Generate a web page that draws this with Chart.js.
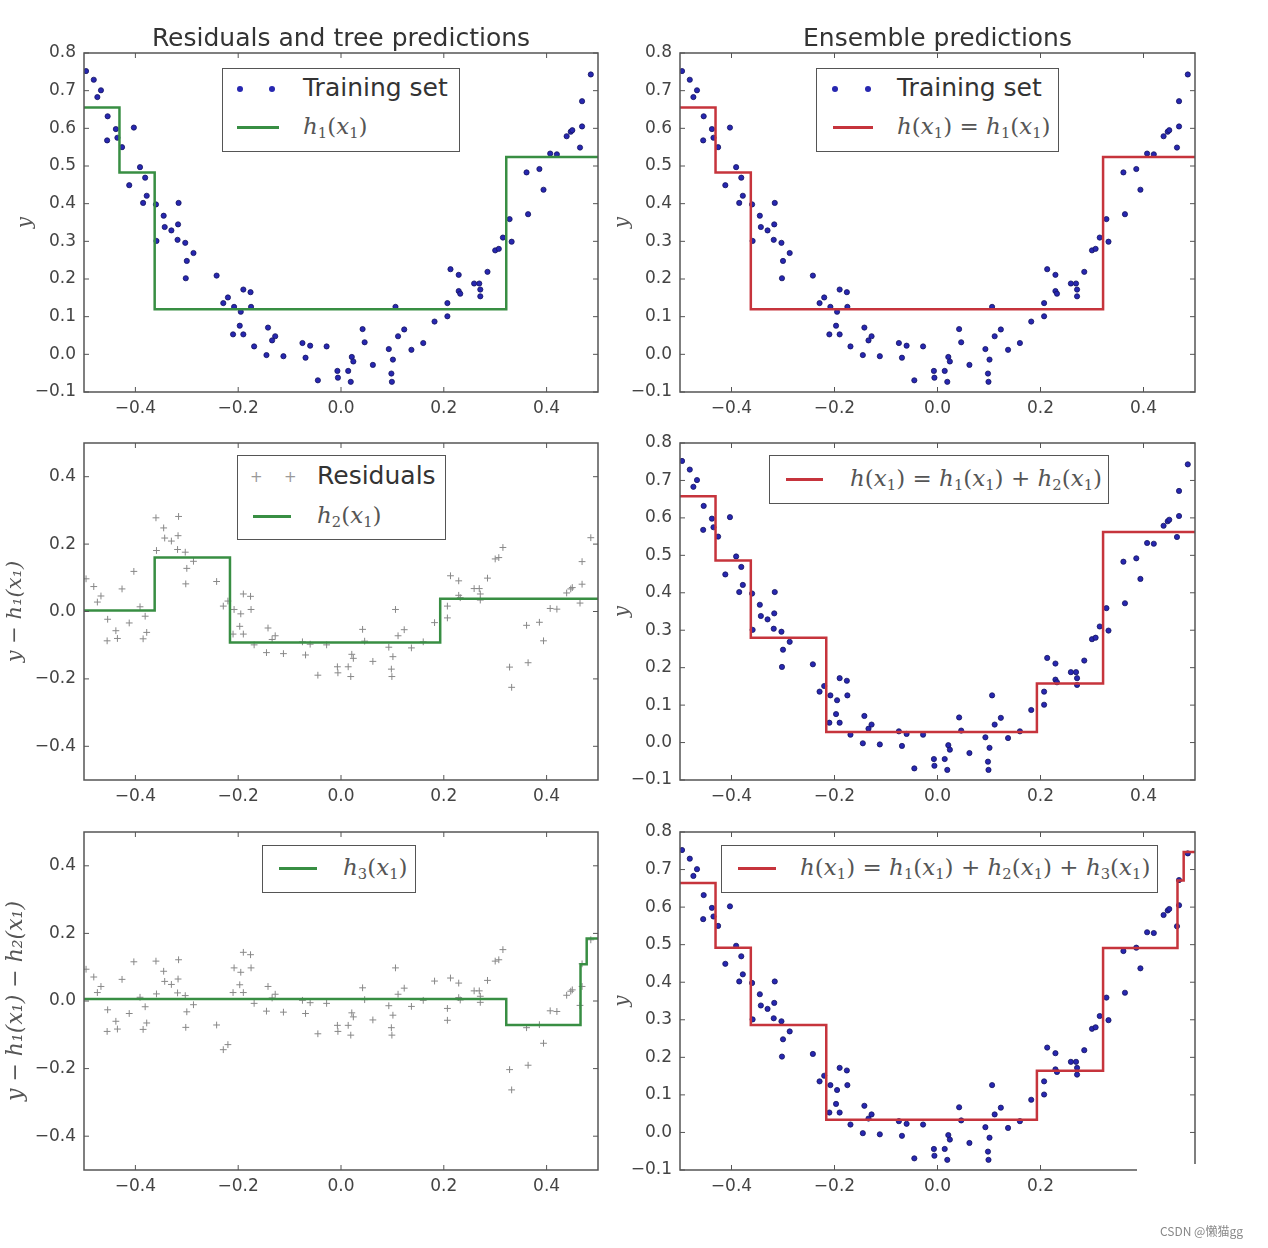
<!DOCTYPE html>
<html>
<head>
<meta charset="utf-8">
<script src="https://cdn.jsdelivr.net/npm/chart.js@4.4.0/dist/chart.umd.min.js"></script>
<style>
  body { margin: 0; background: #fff; width: 1268px; height: 1248px; position: relative; overflow: hidden; font-family: "DejaVu Sans", sans-serif; }
  canvas { position: absolute; }
  .title { position: absolute; text-align: center; font-size: 25px; line-height: 28px; color: #333; }
  .leg { position: absolute; border: 1.5px solid #555; background: #fff; box-sizing: border-box; }
  .lbl { position: absolute; line-height: 30px; white-space: nowrap; }
  .txt { font-family: "DejaVu Sans", sans-serif; font-size: 25px; color: #333; }
  .math { font-family: "DejaVu Serif", serif; font-size: 23px; color: #555; }
  .math sub { font-size: 0.64em; vertical-align: -0.3em; }
  .sym { position: absolute; }
  .wm { position: absolute; left: 1160px; top: 1222px; font-family: "Noto Sans CJK SC", sans-serif; font-size: 12px; color: #888; }
  .patch { position: absolute; background: #fff; }
</style>
</head>
<body>
<canvas id="c1" width="605" height="420" style="left:0;top:0"></canvas>
<canvas id="c2" width="663" height="420" style="left:605px;top:0"></canvas>
<canvas id="c3" width="605" height="390" style="left:0;top:420px"></canvas>
<canvas id="c4" width="663" height="390" style="left:605px;top:420px"></canvas>
<canvas id="c5" width="605" height="400" style="left:0;top:810px"></canvas>
<canvas id="c6" width="663" height="400" style="left:605px;top:810px"></canvas>

<div class="title" style="left:84px;top:24px;width:514px">Residuals and tree predictions</div>
<div class="title" style="left:680px;top:24px;width:515px">Ensemble predictions</div>
<div class="patch" style="left:1137px;top:1164px;width:70px;height:40px"></div>
<div class="patch" style="left:1124px;top:1176px;width:30px;height:24px"></div>
<div class="wm">CSDN @懒猫gg</div>

<script>
// training set
const trainX = [
  -0.496, -0.481, -0.467, -0.474, -0.454, -0.438, -0.455, -0.435, -0.426, -0.403,
  -0.391, -0.381, -0.412, -0.378, -0.385, -0.360, -0.316, -0.345, -0.343, -0.330,
  -0.317, -0.318, -0.303, -0.287, -0.300, -0.302, -0.359, -0.242, -0.190, -0.176,
  -0.220, -0.229, -0.208, -0.195, -0.175, -0.197, -0.210, -0.190, -0.169,
  -0.142, -0.128, -0.134, -0.145, -0.112, -0.075, -0.060, -0.069, -0.028, -0.045,
  -0.007, -0.006, 0.014, 0.019, 0.021, 0.024, 0.042, 0.046, 0.062, 0.093,
  0.101, 0.098, 0.099, 0.111, 0.123, 0.137, 0.160, 0.106,
  0.182, 0.207, 0.207, 0.213, 0.229, 0.229, 0.232, 0.259, 0.269, 0.271,
  0.271, 0.285, 0.300, 0.307, 0.315, 0.332, 0.328, 0.364, 0.361, 0.386,
  0.394, 0.407, 0.420, 0.439, 0.447, 0.450, 0.469, 0.465, 0.469, 0.486
];
const trainY = [
  0.752, 0.729, 0.701, 0.683, 0.632, 0.598, 0.568, 0.575, 0.550, 0.602,
  0.497, 0.469, 0.449, 0.421, 0.402, 0.398, 0.402, 0.368, 0.338, 0.329,
  0.345, 0.304, 0.296, 0.269, 0.248, 0.202, 0.301, 0.209, 0.172, 0.165,
  0.151, 0.136, 0.126, 0.113, 0.126, 0.076, 0.053, 0.053, 0.021,
  0.071, 0.048, 0.037, -0.002, -0.005, 0.030, 0.023, -0.009, 0.021, -0.069,
  -0.044, -0.062, -0.044, -0.073, -0.007, -0.019, 0.067, 0.032, -0.028, 0.014,
  -0.014, -0.051, -0.073, 0.048, 0.066, 0.012, 0.030, 0.126,
  0.087, 0.101, 0.136, 0.226, 0.211, 0.168, 0.161, 0.188, 0.188, 0.172,
  0.154, 0.219, 0.276, 0.280, 0.310, 0.299, 0.359, 0.372, 0.483, 0.492,
  0.437, 0.533, 0.531, 0.579, 0.591, 0.595, 0.605, 0.549, 0.672, 0.743
];

// regression trees: split thresholds and leaf values
const h1Splits = [-0.431, -0.3625, 0.3215];
const h1Values = [0.655, 0.483, 0.120, 0.524];
const h2Splits = [-0.3625, -0.216, 0.193];
const h2Values = [0.003, 0.160, -0.092, 0.038];
const h3Splits = [0.3215, 0.466, 0.478];
const h3Values = [0.006, -0.071, 0.109, 0.185];

const xTickValues = [-0.4, -0.2, 0.0, 0.2, 0.4];
const yTicksTrain = [-0.1, 0.0, 0.1, 0.2, 0.3, 0.4, 0.5, 0.6, 0.7, 0.8];
const yTicksResid = [-0.4, -0.2, 0.0, 0.2, 0.4];

const h1 = { splits: h1Splits, values: h1Values };
const h2 = { splits: h2Splits, values: h2Values };
const h3 = { splits: h3Splits, values: h3Values };

const GREEN = "#388e43";
const RED = "#c6343c";
const BLUE = "#2727b0";

function predict(tree, x) {
  let i = 0;
  while (i < tree.splits.length && x >= tree.splits[i]) i++;
  return tree.values[i];
}

function stepPoints(trees) {
  const cuts = [...new Set(trees.flatMap(t => t.splits))].sort((a, b) => a - b);
  const edges = [-0.5, ...cuts, 0.5];
  const pts = [];
  for (let i = 0; i < edges.length - 1; i++) {
    const mid = (edges[i] + edges[i + 1]) / 2;
    const v = trees.reduce((s, t) => s + predict(t, mid), 0);
    pts.push({ x: edges[i], y: v }, { x: edges[i + 1], y: v });
  }
  return pts;
}

function residualPoints(trees) {
  return trainX.map((x, i) => ({ x, y: trainY[i] - trees.reduce((s, t) => s + predict(t, x), 0) }));
}

const trainPoints = trainX.map((x, i) => ({ x, y: trainY[i] }));

const fmt = v => (v < -1e-9 ? "\u2212" : "") + Math.abs(v).toFixed(1);

// box around the plot + inward ticks on all four sides
const frame = {
  id: "frame",
  afterDatasetsDraw(chart) {
    const { ctx, chartArea: a, scales: { x, y } } = chart;
    ctx.save();
    ctx.strokeStyle = "#555";
    ctx.lineWidth = 1.5;
    ctx.strokeRect(a.left, a.top, a.right - a.left, a.bottom - a.top);
    ctx.lineWidth = 1;
    ctx.beginPath();
    x.ticks.forEach(t => {
      const p = x.getPixelForValue(t.value);
      ctx.moveTo(p, a.bottom); ctx.lineTo(p, a.bottom - 5);
      ctx.moveTo(p, a.top); ctx.lineTo(p, a.top + 5);
    });
    y.ticks.forEach(t => {
      const p = y.getPixelForValue(t.value);
      ctx.moveTo(a.left, p); ctx.lineTo(a.left + 5, p);
      ctx.moveTo(a.right, p); ctx.lineTo(a.right - 5, p);
    });
    ctx.stroke();
    ctx.restore();
  }
};

function makeChart(id, cfg) {
  const tickFont = { family: "DejaVu Sans", size: 17 };
  return new Chart(document.getElementById(id), {
    type: "scatter",
    data: { datasets: cfg.datasets },
    options: {
      responsive: false,
      animation: false,
      layout: { padding: { left: 0, top: cfg.top, right: cfg.right, bottom: 0 } },
      plugins: { legend: { display: false }, tooltip: { enabled: false } },
      scales: {
        x: {
          type: "linear", min: -0.5, max: 0.5,
          grid: { display: false, drawTicks: false }, border: { display: false },
          afterBuildTicks: s => { s.ticks = xTickValues.map(v => ({ value: v })); },
          afterFit: s => { s.height = cfg.xh; },
          ticks: { color: "#444", font: tickFont, padding: 6, maxRotation: 0, autoSkip: false, callback: fmt }
        },
        y: {
          type: "linear", min: cfg.ymin, max: cfg.ymax,
          grid: { display: false, drawTicks: false }, border: { display: false },
          afterBuildTicks: s => { s.ticks = cfg.yticks.map(v => ({ value: v })); },
          afterFit: s => { s.width = cfg.yw; },
          ticks: { color: "#444", font: tickFont, padding: 8, autoSkip: false, callback: fmt },
          title: {
            display: true, text: cfg.ylabel, color: "#555",
            font: { family: "DejaVu Serif", style: "italic", size: cfg.ysize || 20 },
            padding: { top: cfg.titlePad, bottom: 0 }
          }
        }
      }
    },
    plugins: [frame]
  });
}

function lineSet(data, color) {
  return { data, showLine: true, borderColor: color, borderWidth: 2.5, pointRadius: 0, order: 0, clip: 2 };
}
function dotSet() {
  return { data: trainPoints, backgroundColor: BLUE, borderColor: "#141460", borderWidth: 0.8, pointRadius: 2.6, order: 1 };
}
function crossSet(data) {
  return { data, pointStyle: "cross", borderColor: "#888", borderWidth: 1, pointRadius: 3.4, order: 1 };
}

const left = { yw: 84, right: 7 };
const right = { yw: 75, right: 73 };

makeChart("c1", { ...left, top: 53, xh: 28, ymin: -0.1, ymax: 0.8, yticks: yTicksTrain, ylabel: "y", titlePad: 14,
  datasets: [lineSet(stepPoints([h1]), GREEN), dotSet()] });
makeChart("c2", { ...right, top: 53, xh: 28, ymin: -0.1, ymax: 0.8, yticks: yTicksTrain, ylabel: "y", titlePad: 6,
  datasets: [lineSet(stepPoints([h1]), RED), dotSet()] });
makeChart("c3", { ...left, top: 23, xh: 30, ymin: -0.5, ymax: 0.5, yticks: yTicksResid, ylabel: "y \u2212 h\u2081(x\u2081)", titlePad: 3, ysize: 21,
  datasets: [lineSet(stepPoints([h2]), GREEN), crossSet(residualPoints([h1]))] });
makeChart("c4", { ...right, top: 23, xh: 30, ymin: -0.1, ymax: 0.8, yticks: yTicksTrain, ylabel: "y", titlePad: 6,
  datasets: [lineSet(stepPoints([h1, h2]), RED), dotSet()] });
makeChart("c5", { ...left, top: 22, xh: 40, ymin: -0.5, ymax: 0.5, yticks: yTicksResid, ylabel: "y \u2212 h\u2081(x\u2081) \u2212 h\u2082(x\u2081)", titlePad: 3, ysize: 22,
  datasets: [lineSet(stepPoints([h3]), GREEN), crossSet(residualPoints([h1, h2]))] });
makeChart("c6", { ...right, top: 22, xh: 40, ymin: -0.1, ymax: 0.8, yticks: yTicksTrain, ylabel: "y", titlePad: 6,
  datasets: [lineSet(stepPoints([h1, h2, h3]), RED), dotSet()] });

// legends (matplotlib style boxes)
const hx = n => `<i>h</i><sub>${n}</sub>(<i>x</i><sub>1</sub>)`;
const hSum = `<i>h</i>(<i>x</i><sub>1</sub>)`;

function addLegend(box, items) {
  const el = document.createElement("div");
  el.className = "leg";
  Object.assign(el.style, { left: box.x + "px", top: box.y + "px", width: box.w + "px", height: box.h + "px" });
  items.forEach(it => {
    if (it.kind === "dots") {
      [it.s1, it.s2].forEach(sx => {
        const d = document.createElement("div");
        d.className = "sym";
        Object.assign(d.style, { left: sx - 3 + "px", top: it.cy - 3 + "px", width: "6px", height: "6px", borderRadius: "50%", background: BLUE });
        el.appendChild(d);
      });
    } else if (it.kind === "cross") {
      [it.s1, it.s2].forEach(sx => {
        const d = document.createElement("div");
        d.className = "sym";
        d.textContent = "+";
        Object.assign(d.style, { left: sx - 5 + "px", top: it.cy - 10 + "px", fontSize: "15px", color: "#999", lineHeight: "20px" });
        el.appendChild(d);
      });
    } else {
      const d = document.createElement("div");
      d.className = "sym";
      Object.assign(d.style, { left: it.s1 + "px", top: it.cy - 1.5 + "px", width: it.s2 - it.s1 + "px", height: "3px", background: it.color });
      el.appendChild(d);
    }
    const t = document.createElement("div");
    t.className = "lbl " + (it.math ? "math" : "txt");
    t.innerHTML = it.label;
    Object.assign(t.style, { left: it.tx + "px", top: it.cy - 16 + "px" });
    el.appendChild(t);
  });
  document.body.appendChild(el);
}

addLegend({ x: 222, y: 68, w: 238, h: 84 }, [
  { kind: "dots", s1: 17, s2: 49, cy: 20, tx: 80, label: "Training set" },
  { kind: "line", s1: 14, s2: 56, cy: 58, color: GREEN, tx: 80, math: true, label: hx(1) }
]);
addLegend({ x: 816, y: 68, w: 243, h: 84 }, [
  { kind: "dots", s1: 18, s2: 51, cy: 20, tx: 80, label: "Training set" },
  { kind: "line", s1: 16, s2: 56, cy: 58, color: RED, tx: 80, math: true, label: hSum + " = " + hx(1) }
]);
addLegend({ x: 237, y: 455, w: 209, h: 85 }, [
  { kind: "cross", s1: 17, s2: 51, cy: 21, tx: 79, label: "Residuals" },
  { kind: "line", s1: 15, s2: 53, cy: 60, color: GREEN, tx: 79, math: true, label: hx(2) }
]);
addLegend({ x: 769, y: 455, w: 340, h: 49 }, [
  { kind: "line", s1: 16, s2: 53, cy: 23, color: RED, tx: 80, math: true, label: hSum + " = " + hx(1) + " + " + hx(2) }
]);
addLegend({ x: 262, y: 845, w: 154, h: 48 }, [
  { kind: "line", s1: 16, s2: 54, cy: 22, color: GREEN, tx: 80, math: true, label: hx(3) }
]);
addLegend({ x: 721, y: 845, w: 437, h: 48 }, [
  { kind: "line", s1: 16, s2: 54, cy: 22, color: RED, tx: 78, math: true, label: hSum + " = " + hx(1) + " + " + hx(2) + " + " + hx(3) }
]);
</script>
</body>
</html>
